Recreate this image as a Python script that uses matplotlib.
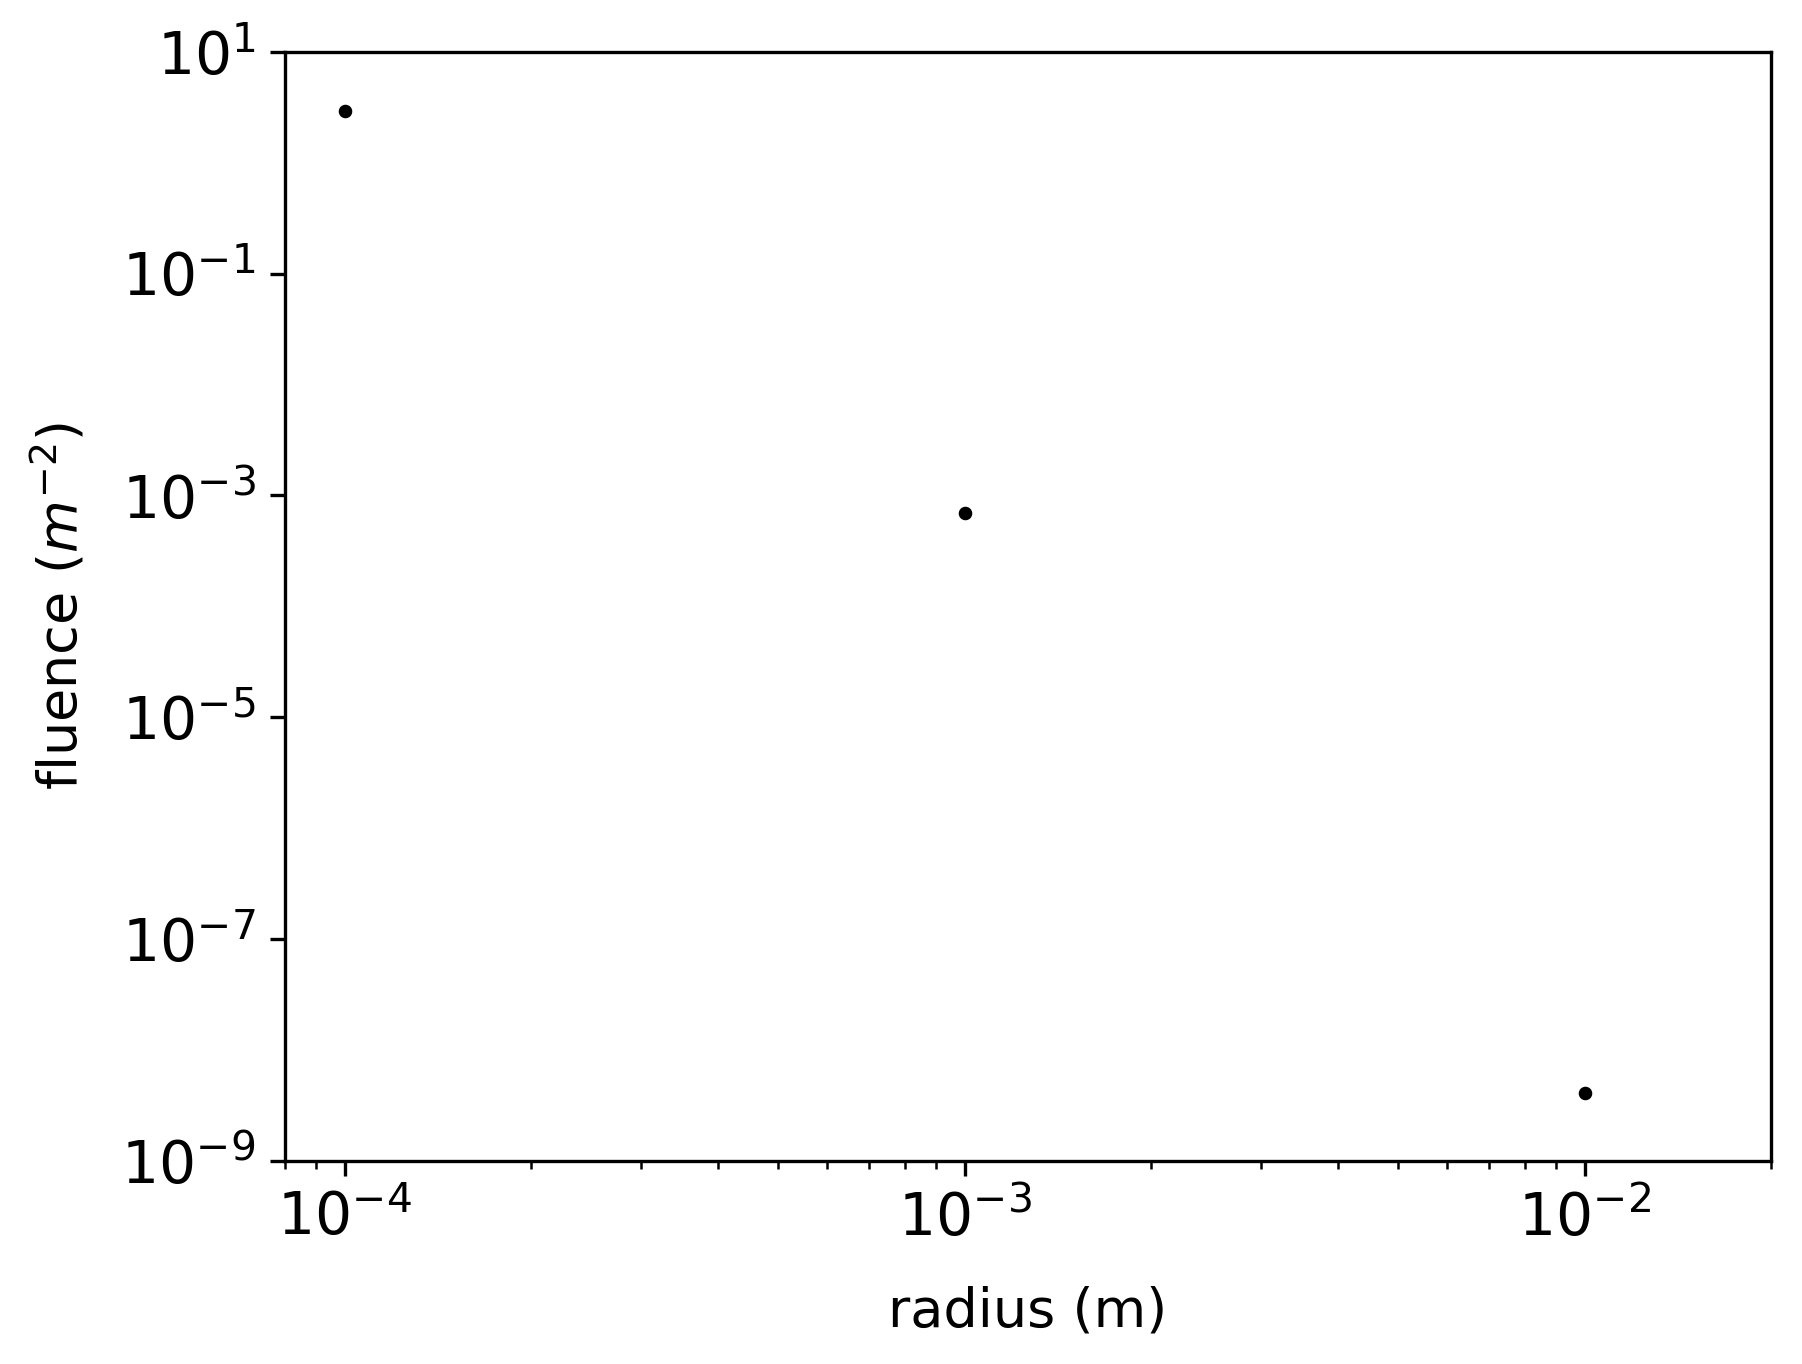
import matplotlib
matplotlib.use("Agg")
import matplotlib.pyplot as plt

# radius (m) and fluence (m^-2)
radius = [1e-4, 1e-3, 1e-2]
fluence = [2.95, 7.0e-4, 4.1e-9]

fig = plt.figure(figsize=(1802 / 300, 1364 / 300), dpi=300)
ax = fig.add_axes([0.158, 0.149, 0.825, 0.813])
ax.plot(radius, fluence, "k.", markersize=4.5)
ax.set_xscale("log")
ax.set_yscale("log")
ax.set_xlim(8.0e-5, 2.0e-2)
ax.set_ylim(1e-9, 1e1)
ax.set_yticks([1e1, 1e-1, 1e-3, 1e-5, 1e-7, 1e-9])
ax.tick_params(axis="both", which="major", labelsize=14)
ax.set_xlabel("radius (m)", fontsize=13, labelpad=9)
ax.set_ylabel("fluence ($m^{-2}$)", fontsize=13, labelpad=8)

fig.savefig("out.png", dpi=300)
